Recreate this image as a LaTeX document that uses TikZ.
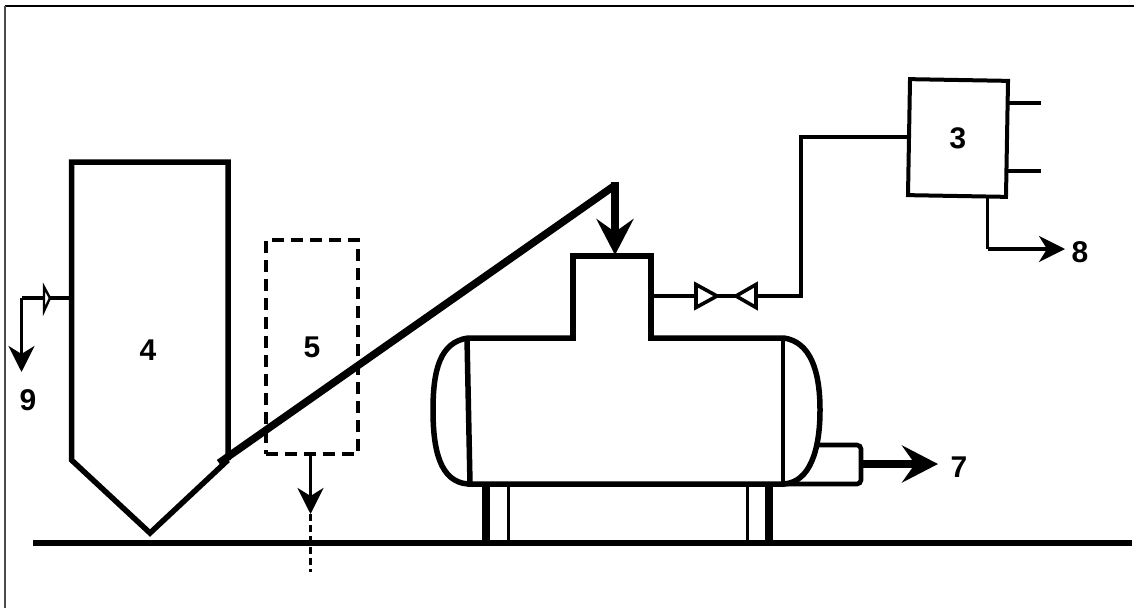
\documentclass[tikz,border=0pt]{standalone}
\usepackage{fontspec}
\setmainfont{Liberation Sans}
\usetikzlibrary{arrows.meta}

\tikzset{
  lab/.style={font=\fontsize{30}{30}\selectfont\bfseries, inner sep=0pt},
  wall/.style={line width=5.5pt, line join=miter},
  pipe/.style={line width=3.6pt},
  bigtip/.style={-{Stealth[length=36pt, width=37pt, inset=13pt]}, line width=8pt},
  smalltip/.style={-{Stealth[length=26pt, width=26pt, inset=8pt]}, line width=3.6pt}
}

\begin{document}
\begin{tikzpicture}[x=1pt, y=-1pt]
\useasboundingbox (0,0) rectangle (1134,608);

% Frame
\draw[line width=2.4pt] (1134,6) -- (5,6);
\draw[line width=2pt, black!70] (5,6) -- (5,608);

% Ground
\coordinate (groundL) at (33,543);
\coordinate (groundR) at (1132,543);
\draw[line width=6pt] (groundL) -- (groundR);

% Hopper
\draw[wall] (228,460) -- (228,162) -- (71.5,162) -- (71.5,460) -- (150,533) -- (228,460);
\node[lab] (lab4) at (148,350) {4};

% Outlet of the hopper
\coordinate (ventA) at (69,298);
\coordinate (ventB) at (21.5,298);
\coordinate (ventC) at (21.5,372);
\draw[pipe] (ventA) -- (ventB);
\draw[smalltip] (ventB) -- (ventC);
\draw[line width=2.4pt, fill=white] (44,287) -- (50,298) -- (44,311) -- cycle;
\node[lab] (lab9) at (28,400) {9};

% Dashed box
\node[draw, lab, line width=4pt, dash pattern=on 12pt off 7pt, minimum width=92pt, minimum height=214pt, outer sep=0pt] (box5) at (312,347) {\raisebox{-3pt}{5}};
\coordinate (dropA) at (310.5,514);
\coordinate (dropB) at (310.5,572);
\draw[smalltip] (box5.south -| dropA) -- (dropA);
\draw[line width=2.4pt, dash pattern=on 7pt off 4pt] (dropA) -- (dropB);

% Conveyor
\coordinate (beltA) at (219,463);
\coordinate (beltB) at (614,186);
\draw[line width=7.5pt] (beltA) -- (beltB);
\coordinate (feedA) at (615,182);
\coordinate (feedB) at (615,255);
\draw[bigtip] (feedA) -- (feedB);

% Tank
\draw[wall] (576,338) -- (573,338) -- (573,256) -- (651,256) -- (651,338) -- (648,338);
\draw[wall] (573,338) -- (468,338) .. controls (440,342) and (433,370) .. (433,410) .. controls (433,450) and (440,482) .. (468,484) -- (784,484) .. controls (810,482) and (820,450) .. (820,410) .. controls (820,370) and (810,342) .. (784,338) -- (651,338);
\draw[wall] (467,338) -- (470,484);
\draw[line width=4.6pt] (783,338) -- (783,484);

% Legs
\draw[line width=8pt] (486,484) -- (486,543);
\draw[pipe] (508.5,484) -- (508.5,543);
\draw[pipe] (747.5,484) -- (747.5,543);
\draw[line width=8pt] (769,484) -- (769,543);

% Nozzle
\draw[line width=4.6pt, rounded corners=4pt] (818,445) -- (861,445) -- (861,484) -- (784,484);
\coordinate (nozzle) at (861,464);
\coordinate (out7) at (938,464);
\draw[bigtip] (nozzle) -- (out7);
\node[lab] (lab7) at (959,467) {7};

% Valve and line to the box
\coordinate (valveL) at (696,296);
\coordinate (valveR) at (756,296);
\coordinate (tee) at (651,296);
\coordinate (bend) at (801,296);
\node[draw, lab, line width=4pt, rotate=-1, minimum width=98pt, minimum height=116pt, outer sep=0pt] (box3) at (958,138) {\raisebox{-2pt}{3}};
\draw[pipe] (tee) -- (valveL);
\draw[pipe] (valveL) -- (valveR);
\draw[pipe] (valveR) -- (bend) |- (box3.west);
\draw[line width=3.6pt, fill=white] (696,284.5) -- (717,296) -- (696,307.5) -- cycle;
\draw[line width=3.6pt, fill=white] (756,284.5) -- (736,296) -- (756,307.5) -- cycle;

% Lines at the box
\coordinate (stubA) at (1041,103);
\coordinate (stubB) at (1041,171);
\draw[pipe] (stubA) -- (stubA -| box3.east);
\draw[pipe] (stubB) -- (stubB -| box3.east);
\coordinate (bendB) at (987.5,249);
\coordinate (out8) at (1065,249);
\draw[pipe] (bendB |- box3.south) -- (bendB);
\draw[smalltip] (bendB) -- (out8);
\node[lab] (lab8) at (1080,252) {8};

\end{tikzpicture}
\end{document}
